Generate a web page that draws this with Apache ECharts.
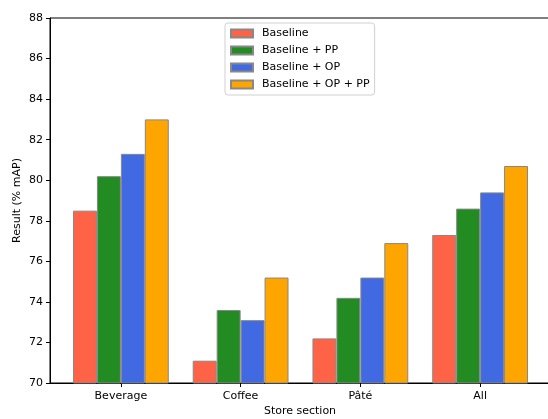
<!DOCTYPE html>
<html lang="en">

<head>
  <meta charset="UTF-8">
  <title>Store section results</title>
  <style>
    html, body { margin: 0; padding: 0; background: #fff; }
  </style>
</head>

<body>
  <div id="main" style="width: 548px;height: 419px;"></div>
</body>
<script src="https://cdn.jsdelivr.net/npm/echarts@6/dist/echarts.min.js"></script>
<script>
  var chart = echarts.init(document.getElementById('main'))

  // data
  var sections = ['Beverage', 'Coffee', 'Pâté', 'All']
  var names = ['Baseline', 'Baseline + PP', 'Baseline + OP', 'Baseline + OP + PP']
  var baseline = [78.5, 71.1, 72.2, 77.3]
  var baselinePP = [80.2, 73.6, 74.2, 78.6]
  var baselineOP = [81.3, 73.1, 75.2, 79.4]
  var baselineOPPP = [83.0, 75.2, 76.9, 80.7]
  var colors = ['#FF6347', '#228B22', '#4169E1', '#FFA500']

  var font = 'DejaVu Sans'
  var fs = 11

  var series = [baseline, baselinePP, baselineOP, baselineOPPP].map(function (vals, i) {
    return {
      name: names[i],
      type: 'bar',
      xAxisIndex: 1,
      yAxisIndex: 1,
      barGap: 0,
      barCategoryGap: '20%',
      itemStyle: {
        color: colors[i],
        borderColor: '#888',
        borderWidth: 1
      },
      data: vals
    }
  })

  var option = {
    animation: false,
    textStyle: { fontFamily: font },
    legend: {
      orient: 'vertical',
      left: 225,
      top: 23,
      padding: [5, 5, 5, 5],
      icon: 'rect',
      itemWidth: 22,
      itemHeight: 8,
      itemGap: 6,
      borderColor: '#d0d0d0',
      borderWidth: 1,
      borderRadius: 3,
      backgroundColor: 'rgba(255,255,255,0.8)',
      textStyle: { fontFamily: font, fontSize: fs, color: '#000', padding: [0, 0, 0, 4] },
      data: names
    },
    grid: [
      // frame: spines and y ticks
      { left: 50, right: -2, top: 18, bottom: 36, outerBoundsMode: 'none', show: true, borderColor: '#000', borderWidth: 1 },
      // bars
      { left: 61, right: 8, top: 18, bottom: 36, outerBoundsMode: 'none' }
    ],
    xAxis: [
      {
        type: 'value',
        gridIndex: 0,
        min: 0,
        max: 1,
        name: 'Store section',
        nameLocation: 'middle',
        nameGap: 23,
        nameTextStyle: { fontFamily: font, fontSize: fs, color: '#000' },
        axisLine: { lineStyle: { color: '#000', width: 1 } },
        axisTick: { show: false },
        axisLabel: { show: false },
        splitLine: { show: false }
      },
      {
        type: 'category',
        gridIndex: 1,
        data: sections,
        axisLine: { show: false },
        axisTick: { show: true, alignWithLabel: true, length: 4, lineStyle: { color: '#000' } },
        axisLabel: { fontFamily: font, fontSize: fs, color: '#000', margin: 8 }
      }
    ],
    yAxis: [
      {
        type: 'value',
        gridIndex: 0,
        min: 70,
        max: 88,
        interval: 2,
        name: 'Result (% mAP)',
        nameLocation: 'middle',
        nameGap: 27,
        nameMoveOverlap: false,
        nameTextStyle: { fontFamily: font, fontSize: fs, color: '#000' },
        axisLine: { show: true, lineStyle: { color: '#000', width: 1 } },
        axisTick: { show: true, length: 4, lineStyle: { color: '#000' } },
        axisLabel: { fontFamily: font, fontSize: fs, color: '#000', margin: 7 },
        splitLine: { show: false }
      },
      {
        type: 'value',
        gridIndex: 1,
        min: 70,
        max: 88,
        interval: 2,
        show: false,
        splitLine: { show: false }
      }
    ],
    series: series
  }

  chart.setOption(option)
</script>

</html>
